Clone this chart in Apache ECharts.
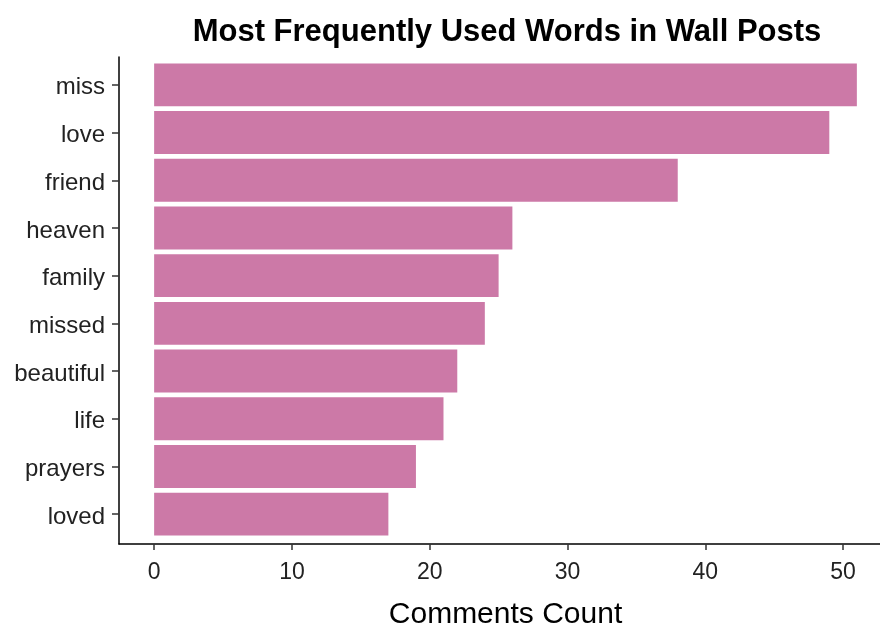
<!DOCTYPE html>
<html>
<head>
<meta charset="utf-8">
<script src="https://cdn.jsdelivr.net/npm/echarts@6/dist/echarts.min.js"></script>
<style>html,body{margin:0;padding:0;background:#fff}#c{width:880px;height:625px}</style>
</head>
<body>
<div id="c"></div>
<script>
const words = ['miss','love','friend','heaven','family','missed','beautiful','life','prayers','loved'];
const counts = [51, 49, 38, 26, 25, 24, 22, 21, 19, 17];
const xTicks = [0, 10, 20, 30, 40, 50];

const FONT = '"Liberation Sans", Arial, sans-serif';
const chart = echarts.init(document.getElementById('c'), null, {renderer: 'canvas'});
chart.setOption({
  animation: false,
  backgroundColor: '#ffffff',
  title: {
    text: 'Most Frequently Used Words in Wall Posts',
    left: 502, top: 12, textAlign: 'center',
    textStyle: {fontFamily: FONT, fontWeight: 'bold', fontSize: 31, color: '#000'}
  },
  grid: [
    {left: 119, top: 57, width: 773, height: 487, containLabel: false, outerBoundsMode: 'none'},
    {left: 119, top: 61, width: 773, height: 477, containLabel: false, outerBoundsMode: 'none'}
  ],
  xAxis: [
    {
      gridIndex: 0, type: 'value', min: -2.55, max: 53.55,
      name: 'Comments Count', nameLocation: 'middle', nameGap: 56,
      nameTextStyle: {fontFamily: FONT, fontSize: 30, color: '#000'},
      axisLine: {show: true, onZero: false, lineStyle: {color: '#000', width: 1.5}},
      axisTick: {show: true, length: 6, customValues: xTicks, lineStyle: {color: '#333', width: 1.5}},
      axisLabel: {show: true, customValues: xTicks, margin: 17, fontFamily: FONT, fontSize: 23, color: '#222'},
      splitLine: {show: false}
    },
    {
      gridIndex: 1, type: 'value', min: -2.55, max: 53.55, show: false
    }
  ],
  yAxis: [
    {
      gridIndex: 0, type: 'value', min: 0, max: 1,
      axisLine: {show: true, onZero: false, lineStyle: {color: '#000', width: 1.5}},
      axisTick: {show: false}, axisLabel: {show: false}, splitLine: {show: false}
    },
    {
      gridIndex: 1, type: 'category', data: words, inverse: true,
      axisLine: {show: false, onZero: false},
      axisTick: {show: true, length: 7, alignWithLabel: true, lineStyle: {color: '#333', width: 1.5}},
      axisLabel: {margin: 14, verticalAlign: 'top', lineHeight: 6, fontFamily: FONT, fontSize: 24, color: '#222'},
      splitLine: {show: false}
    }
  ],
  series: [{
    type: 'bar', xAxisIndex: 1, yAxisIndex: 1,
    data: counts, barCategoryGap: '10%',
    itemStyle: {color: '#CC79A7'}
  }]
});
</script>
</body>
</html>
